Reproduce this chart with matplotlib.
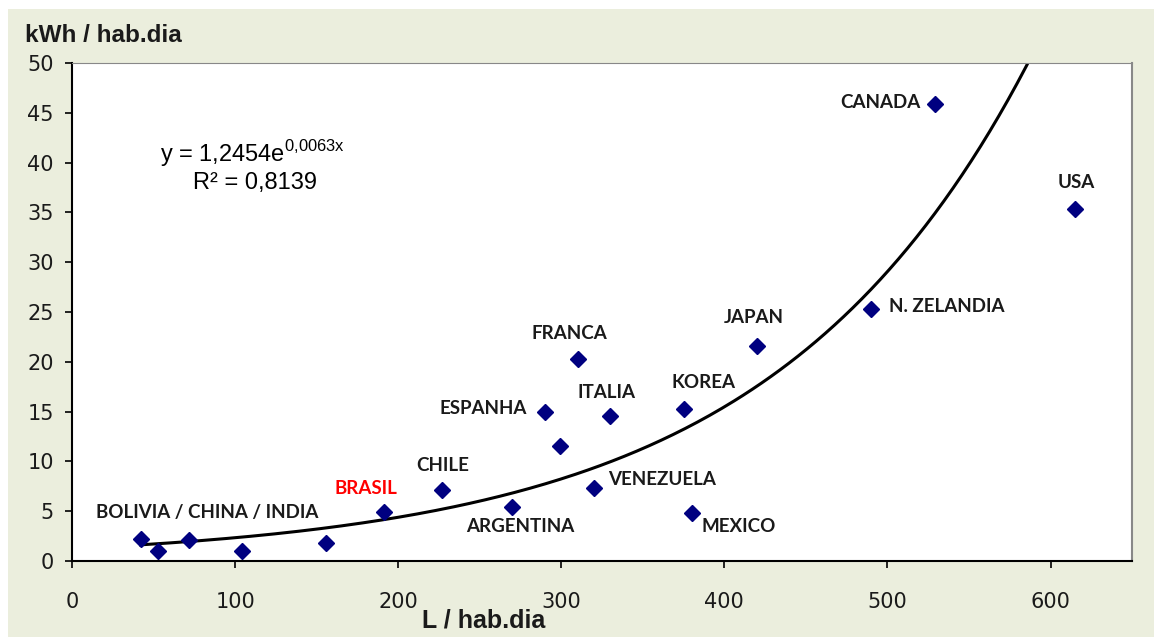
import numpy as np
import matplotlib.pyplot as plt
from matplotlib.patches import Rectangle

plt.rcParams['mathtext.fontset'] = 'custom'
plt.rcParams['mathtext.rm'] = 'Liberation Sans'

# water use (L / hab.dia) vs energy use (kWh / hab.dia)
litros = [42, 53, 72, 104, 156, 191, 227, 270, 290, 299, 310, 330, 320, 375, 380, 420, 490, 529, 615]
kwh = [2.2, 1.0, 2.1, 1.0, 1.8, 4.9, 7.1, 5.4, 15.0, 11.5, 20.3, 14.6, 7.3, 15.3, 4.8, 21.6, 25.3, 45.9, 35.3]

# labels: text, x, y (data coords), alignment, colour
labels = [
    ("BOLIVIA / CHINA / INDIA", 83, 4.9, "center", "#1a1a1a"),
    ("BRASIL", 180, 7.3, "center", "red"),
    ("CHILE", 227, 9.6, "center", "#1a1a1a"),
    ("ARGENTINA", 275, 3.5, "center", "#1a1a1a"),
    ("ESPANHA", 279, 15.3, "right", "#1a1a1a"),
    ("FRANCA", 305, 22.8, "center", "#1a1a1a"),
    ("ITALIA", 328, 16.9, "center", "#1a1a1a"),
    ("VENEZUELA", 329, 8.2, "left", "#1a1a1a"),
    ("KOREA", 387, 17.9, "center", "#1a1a1a"),
    ("MEXICO", 386, 3.5, "left", "#1a1a1a"),
    ("JAPAN", 418, 24.5, "center", "#1a1a1a"),
    ("CANADA", 520, 46.0, "right", "#1a1a1a"),
    ("USA", 616, 38.0, "center", "#1a1a1a"),
    ("N. ZELANDIA", 501, 25.6, "left", "#1a1a1a"),
]

# exponential trendline y = 1,2454 e^(0,0063x)
a, b = 1.2454, 0.0063
xfit = np.linspace(42, 600, 300)
yfit = a * np.exp(b * xfit)

fig = plt.figure(figsize=(11.54, 6.37), dpi=100, facecolor="white")
fig.patches.append(Rectangle((8 / 1154, 0), 1, 1 - 9 / 637, transform=fig.transFigure,
                             facecolor="#ebeedd", edgecolor="none", zorder=-10))
ax = fig.add_axes([0.0624, 0.1193, 0.9186, 0.7817])
ax.set_facecolor("white")

ax.plot(xfit, yfit, color="black", lw=2.2, zorder=2)
ax.plot(litros, kwh, linestyle="none", marker="D", ms=8.5, color="#000080", zorder=3)

for txt, x, y, ha, c in labels:
    ax.text(x, y, txt, ha=ha, va="center", fontsize=13.5, fontweight="bold",
            family="Lato", color=c)

ax.text(54, 40.9, r"y = 1,2454e$^{\mathrm{0{,}0063x}}$", fontsize=17, family="Liberation Sans",
        ha="left", va="center")
ax.text(74, 38.0, "R² = 0,8139", fontsize=17, family="Liberation Sans",
        ha="left", va="center")

ax.set_xlim(0, 650)
ax.set_ylim(0, 50)
ax.set_xticks(range(0, 601, 100))
ax.set_yticks(range(0, 51, 5))
ax.tick_params(labelsize=15, length=5, width=1.2, direction="out",
               labelcolor="#1a1a1a")
ax.tick_params(axis="x", pad=17)
ax.tick_params(axis="y", pad=8)
for lab in ax.get_xticklabels() + ax.get_yticklabels():
    lab.set_family("DejaVu Sans")
ax.spines["left"].set_color("black")
ax.spines["bottom"].set_color("black")
ax.spines["left"].set_linewidth(1.5)
ax.spines["bottom"].set_linewidth(1.5)
ax.spines["top"].set_color("#888888")
ax.spines["right"].set_color("#888888")
ax.spines["right"].set_linewidth(1.5)

fig.text(484 / 1154, 1 - 620 / 637, "L / hab.dia", fontsize=18, fontweight="bold",
         family="Liberation Sans", ha="center", va="center", color="#1a1a1a")
fig.text(25 / 1154, 1 - 35 / 637, "kWh / hab.dia", fontsize=17.5, fontweight="bold",
         family="Liberation Sans", ha="left", va="center", color="#1a1a1a")

fig.savefig("out.png", dpi=100, facecolor=fig.get_facecolor())
